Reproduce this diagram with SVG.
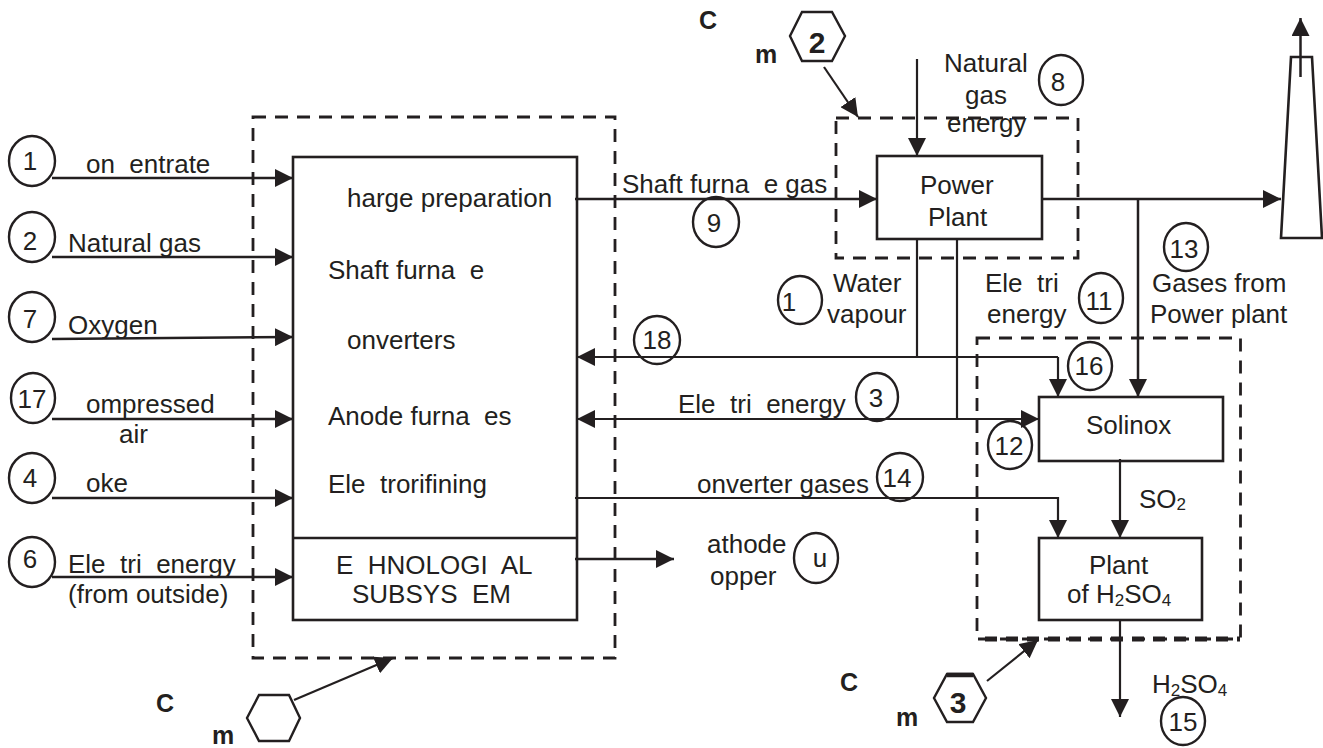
<svg xmlns="http://www.w3.org/2000/svg" width="1323" height="748" viewBox="0 0 1323 748">
<style>
text{font-family:"Liberation Sans",Arial,sans-serif;font-size:26px;fill:#231f20;white-space:pre}
.b{font-weight:bold;font-size:25px}
.h{font-weight:bold;font-size:30px;text-anchor:middle}
.n{text-anchor:middle}
.s{font-size:17px}
.box,.c,.hex{fill:none;stroke:#231f20;stroke-width:2.6}
.c{stroke-width:2.4}
.hex{stroke-width:2.4}
.d{fill:none;stroke:#231f20;stroke-width:2.8;stroke-dasharray:13 9}
.l{fill:none;stroke:#231f20;stroke-width:2.5}
.a{marker-end:url(#ah)}
.thin{stroke-width:2.2}
</style>
<defs>
<marker id="ah" markerUnits="userSpaceOnUse" markerWidth="19" markerHeight="18" refX="18" refY="9" orient="auto"><path d="M0 0L18 9L0 18Z" fill="#231f20"/></marker>
</defs>
<rect width="1323" height="748" fill="#fff"/>
<g id="connectors">
<path class="l a" d="M52 178H293"/>
<path class="l a" d="M52 257H293"/>
<path class="l a" d="M52 339L293 337"/>
<path class="l a" d="M52 419H293"/>
<path class="l a" d="M52 498H293"/>
<path class="l a" d="M52 577H293"/>
<path class="l a" d="M575 199H877"/>
<path class="l a" d="M575 559H674"/>
<path class="l a thin" d="M917 59V156"/>
<path class="l a" d="M1041 199H1281"/>
<path class="l a" d="M1138 199V397"/>
<path class="l thin" d="M917 239V357"/>
<path class="l thin" d="M957 239V419"/>
<path class="l a thin" d="M1058 357H577"/>
<path class="l a thin" d="M1058 357V397"/>
<path class="l a thin" d="M800 419H577"/>
<path class="l a thin" d="M800 419H1039"/>
<path class="l a thin" d="M575 498H1058V538"/>
<path class="l a thin" d="M1120 459V538"/>
<path class="l a thin" d="M1120 620V717"/>
<path class="l a" d="M1300.500 77V18"/>
<path class="l a thin" d="M294 700L393 658"/>
<path class="l a thin" d="M824 67L858 117"/>
<path class="l a thin" d="M987 681L1038 640"/>
</g>
<g id="boundary-1"><rect class="d" x="253" y="117" width="362" height="541"/></g>
<g id="boundary-2"><rect class="d" x="836" y="118" width="242" height="140"/></g>
<g id="boundary-3"><rect class="d" x="977" y="338" width="263.500" height="301"/><path class="d" style="stroke-width:5;stroke-dasharray:12 9" d="M985 639H1240"/></g>
<g id="technological-subsystem">
<rect class="box" x="293" y="157" width="284" height="463"/>
<path class="box" d="M293 538H577"/>
<text x="347" y="207">harge preparation</text>
<text x="328" y="279">Shaft furna  e</text>
<text x="347" y="349">onverters</text>
<text x="328" y="425">Anode furna  es</text>
<text x="328" y="493">Ele  trorifining</text>
<text x="336" y="574">E  HNOLOGI  AL</text>
<text x="352" y="603">SUBSYS  EM</text>
</g>
<g id="power-plant"><rect class="box" x="877" y="156" width="165" height="83"/><text x="920" y="194">Power</text><text x="928" y="226">Plant</text></g>
<g id="solinox"><rect class="box" x="1039" y="397" width="184" height="64"/><text x="1086" y="434">Solinox</text></g>
<g id="acid-plant"><rect class="box" x="1039" y="538" width="163" height="82"/><text x="1089" y="574">Plant</text><text x="1067" y="603">of H<tspan class="s" dy="3">2</tspan><tspan dy="-3">SO</tspan><tspan class="s" dy="3">4</tspan></text></g>
<g id="chimney"><path class="box" d="M1291 57H1312L1322 238H1281Z"/></g>
<g id="n1"><ellipse class="c" cx="32" cy="161" rx="23" ry="25"/><text class="n" x="30" y="170">1</text><text x="86" y="173">on  entrate</text></g>
<g id="n2"><ellipse class="c" cx="32" cy="237" rx="23" ry="25"/><text class="n" x="30" y="250">2</text><text x="68" y="252">Natural gas</text></g>
<g id="n7"><ellipse class="c" cx="32" cy="317" rx="23" ry="25"/><text class="n" x="30" y="328">7</text><text x="68" y="334">Oxygen</text></g>
<g id="n17"><ellipse class="c" cx="33" cy="398" rx="22" ry="25"/><text class="n" x="32" y="408">17</text><text x="86" y="413">ompressed</text><text x="119" y="443">air</text></g>
<g id="n4"><ellipse class="c" cx="32" cy="478" rx="23" ry="25"/><text class="n" x="30" y="487">4</text><text x="86" y="492">oke</text></g>
<g id="n6"><ellipse class="c" cx="32" cy="562" rx="23" ry="25"/><text class="n" x="30" y="568">6</text><text x="68" y="573">Ele  tri  energy</text><text x="68" y="603">(from outside)</text></g>
<g id="n9"><ellipse class="c" cx="716" cy="222" rx="23" ry="25"/><text class="n" x="714" y="232">9</text><text x="622" y="193">Shaft furna  e gas</text></g>
<g id="n8"><ellipse class="c" cx="1061" cy="80" rx="22" ry="25"/><text class="n" x="1058" y="91">8</text><text x="944" y="72">Natural</text><text x="965" y="104">gas</text><text x="947" y="132">energy</text></g>
<g id="n13"><ellipse class="c" cx="1186" cy="247" rx="22" ry="24"/><text class="n" x="1184" y="258">13</text><text x="1152" y="292">Gases from</text><text x="1150" y="323">Power plant</text></g>
<g id="n10"><ellipse class="c" cx="800" cy="300" rx="22" ry="24"/><text class="n" x="789" y="311">1</text><text x="833" y="292">Water</text><text x="827" y="323">vapour</text></g>
<g id="n11"><ellipse class="c" cx="1101" cy="298" rx="22" ry="25"/><text class="n" x="1099" y="310">11</text><text x="985" y="292">Ele  tri</text><text x="987" y="323">energy</text></g>
<g id="n18"><ellipse class="c" cx="657" cy="340" rx="23" ry="24"/><text class="n" x="657" y="349">18</text></g>
<g id="n16"><ellipse class="c" cx="1090" cy="366" rx="22" ry="24"/><text class="n" x="1089" y="375">16</text></g>
<g id="n3"><ellipse class="c" cx="877" cy="397" rx="21" ry="24"/><text class="n" x="876" y="407">3</text><text x="678" y="413">Ele  tri  energy</text></g>
<g id="n12"><ellipse class="c" cx="1010" cy="445" rx="22" ry="24"/><text class="n" x="1009" y="455">12</text></g>
<g id="n14"><ellipse class="c" cx="900" cy="477" rx="23" ry="24"/><text class="n" x="897" y="487">14</text><text x="697" y="493">onverter gases</text></g>
<g id="nu"><ellipse class="c" cx="816" cy="558" rx="22" ry="25"/><text class="n" x="820" y="567">u</text><text x="707" y="553">athode</text><text x="710" y="585">opper</text></g>
<g id="n15"><ellipse class="c" cx="1183" cy="721" rx="22" ry="24"/><text class="n" x="1183" y="731">15</text><text x="1152" y="693">H<tspan class="s" dy="3">2</tspan><tspan dy="-3">SO</tspan><tspan class="s" dy="3">4</tspan></text></g>
<g id="so2"><text x="1139" y="508">SO<tspan class="s" dy="2">2</tspan></text></g>
<g id="cost-1"><path class="hex" d="M259 695H289L300 718L289 741H259L247 718Z"/><text class="b" x="156" y="712">C</text><text class="b" x="212" y="744">m</text></g>
<g id="cost-2"><path class="hex" d="M802 12H832L845 36L832 61H802L790 36Z"/><text class="h" x="817" y="53">2</text><text class="b" x="699" y="29">C</text><text class="b" x="755" y="63">m</text></g>
<g id="cost-3"><path class="hex" d="M947 674H973L986 698L973 722H947L934 698Z"/><path d="M947 675H973" stroke="#231f20" stroke-width="4.500"/><text class="h" x="958" y="713">3</text><text class="b" x="840" y="691">C</text><text class="b" x="896" y="726">m</text></g>
</svg>
